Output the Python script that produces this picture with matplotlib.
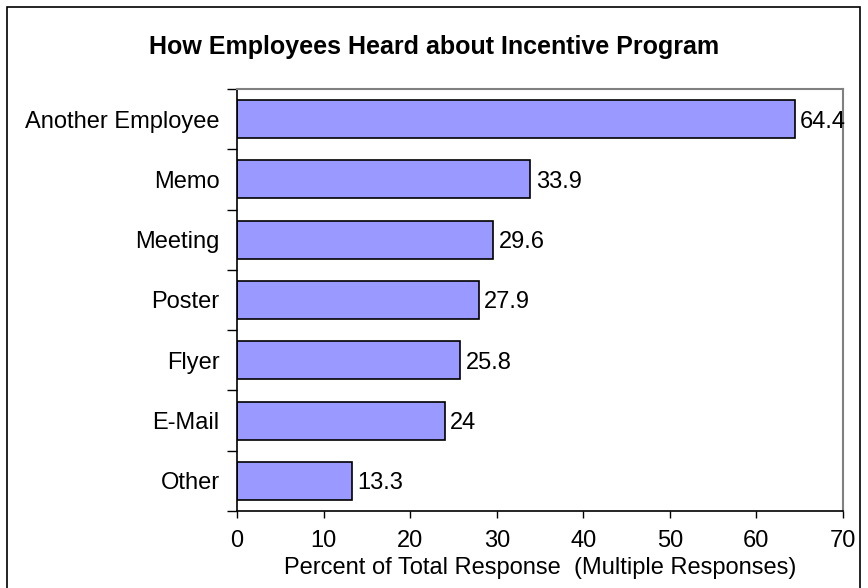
import matplotlib.pyplot as plt
from matplotlib.patches import Rectangle

categories = ["Another Employee", "Memo", "Meeting", "Poster", "Flyer", "E-Mail", "Other"]
percents = [64.4, 33.9, 29.6, 27.9, 25.8, 24, 13.3]
value_labels = ["64.4", "33.9", "29.6", "27.9", "25.8", "24", "13.3"]
x_ticks = [0, 10, 20, 30, 40, 50, 60, 70]

plt.rcParams["font.family"] = ["Liberation Sans", "DejaVu Sans"]

W, H = 868, 588
fig = plt.figure(figsize=(W / 100, H / 100), dpi=100)

# outer chart frame
fig.patches.append(Rectangle((7 / W, -0.05), (860 - 7) / W, 1.05 - 7 / H,
                             transform=fig.transFigure, fill=False,
                             edgecolor="black", linewidth=1.2))

left, right, top, bottom = 237, 843, 89, 511
ax = fig.add_axes([left / W, 1 - bottom / H, (right - left) / W, (bottom - top) / H])

n = len(categories)
ypos = list(range(n))
ax.barh(ypos, percents, height=0.63, color="#9999FF", edgecolor="black", linewidth=1.2)
for y, v, lab in zip(ypos, percents, value_labels):
    ax.text(v + 0.6, y, lab, va="center_baseline", ha="left", fontsize=17)

ax.set_xlim(0, 70)
ax.set_ylim(n - 0.5, -0.5)
ax.set_xticks(x_ticks)
ax.set_xticklabels([str(t) for t in x_ticks], fontsize=17)
ax.set_yticks(ypos)
ax.set_yticklabels(categories, fontsize=17)
ax.tick_params(axis="y", length=0, pad=12.5)
# y ticks sit between categories
ax.set_yticks([i + 0.5 for i in range(-1, n)], minor=True)
ax.tick_params(axis="y", which="minor", length=7, width=1, direction="out")
ax.tick_params(axis="x", length=5, width=1, direction="out", pad=9)

for side in ("top", "right"):
    ax.spines[side].set_color("#808080")
    ax.spines[side].set_linewidth(1.5)
for side in ("left", "bottom"):
    ax.spines[side].set_color("black")
    ax.spines[side].set_linewidth(1.2)

ax.set_xlabel("Percent of Total Response  (Multiple Responses)", fontsize=17, labelpad=3)
fig.text(0.5, 1 - 47 / H, "How Employees Heard about Incentive Program",
         ha="center", va="center", fontsize=18, fontweight="bold")

fig.savefig("out.png", dpi=100)
